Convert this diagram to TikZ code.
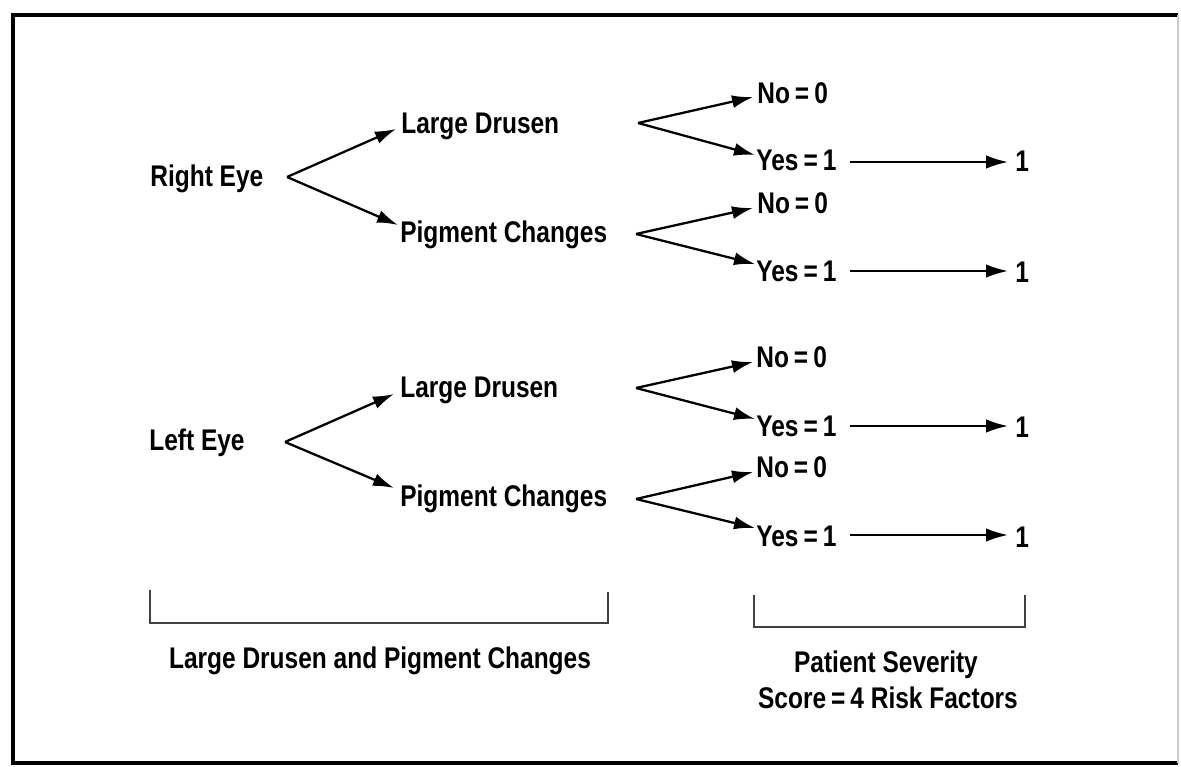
\documentclass[tikz,border=0pt]{standalone}
\usepackage{fontspec}
\setmainfont[FakeStretch=0.82]{Liberation Sans}
\usetikzlibrary{arrows.meta}
\begin{document}
\begin{tikzpicture}[x=0.02cm,y=-0.02cm,
  lbl/.style={font=\fontsize{17}{20}\selectfont\bfseries, inner sep=0, anchor=base west},
  captxt/.style={font=\fontsize{17}{20}\selectfont\bfseries, inner sep=0, anchor=base},
  arr/.style={line width=1.3pt, -{Latex[length=0.42cm, width=0.26cm]}},
  harr/.style={line width=1.2pt, -{Latex[length=0.44cm, width=0.27cm]}},
  brk/.style={line width=0.9pt, black!75}]
\useasboundingbox (0,0) rectangle (1181,767);
% frame
\draw[line width=1.9pt] (1178,15) -- (13,15) -- (13,763) -- (1178,763);
\draw[line width=0.6pt, black!20] (1178,15) -- (1178,763);

% ---------- Right eye ----------
\node[lbl] (re) at (150,187) {Right Eye};
\node[lbl] (ld1) at (401,133) {Large Drusen};
\node[lbl] (pc1) at (400,242) {Pigment Changes};
\coordinate (reb) at (287,177);
\coordinate (ld1in) at (396,129);
\coordinate (pc1in) at (398,225);
\draw[arr] (reb) -- (ld1in);
\draw[arr] (reb) -- (pc1in);

\node[lbl] (no1) at (757,104) {No\,=\,0};
\node[lbl] (yes1) at (756,171) {Yes\,=\,1};
\node[lbl] (s1) at (1015,172) {1};
\coordinate (ld1b) at (638,123);
\coordinate (no1in) at (753,97);
\coordinate (yes1in) at (755,155);
\draw[arr] (ld1b) -- (no1in);
\draw[arr] (ld1b) -- (yes1in);
\coordinate (yes1out) at (850,162);
\coordinate (s1in) at (1008,162);
\draw[harr] (yes1out) -- (s1in);

\node[lbl] (no2) at (757,214) {No\,=\,0};
\node[lbl] (yes2) at (756,281) {Yes\,=\,1};
\node[lbl] (s2) at (1015,282) {1};
\coordinate (pc1b) at (636,234);
\coordinate (no2in) at (753,208);
\coordinate (yes2in) at (755,264);
\draw[arr] (pc1b) -- (no2in);
\draw[arr] (pc1b) -- (yes2in);
\coordinate (yes2out) at (850,271);
\coordinate (s2in) at (1008,271);
\draw[harr] (yes2out) -- (s2in);

% ---------- Left eye ----------
\node[lbl] (le) at (149,450) {Left Eye};
\node[lbl] (ld2) at (400,397) {Large Drusen};
\node[lbl] (pc2) at (400,506) {Pigment Changes};
\coordinate (leb) at (285,442);
\coordinate (ld2in) at (394,394);
\coordinate (pc2in) at (394,488);
\draw[arr] (leb) -- (ld2in);
\draw[arr] (leb) -- (pc2in);

\node[lbl] (no3) at (756,367) {No\,=\,0};
\node[lbl] (yes3) at (756,436) {Yes\,=\,1};
\node[lbl] (s3) at (1015,437) {1};
\coordinate (ld2b) at (636,388);
\coordinate (no3in) at (753,362);
\coordinate (yes3in) at (755,419);
\draw[arr] (ld2b) -- (no3in);
\draw[arr] (ld2b) -- (yes3in);
\coordinate (yes3out) at (850,426);
\coordinate (s3in) at (1008,426);
\draw[harr] (yes3out) -- (s3in);

\node[lbl] (no4) at (756,477) {No\,=\,0};
\node[lbl] (yes4) at (756,546) {Yes\,=\,1};
\node[lbl] (s4) at (1015,547) {1};
\coordinate (pc2b) at (636,499);
\coordinate (no4in) at (753,472);
\coordinate (yes4in) at (755,528);
\draw[arr] (pc2b) -- (no4in);
\draw[arr] (pc2b) -- (yes4in);
\coordinate (yes4out) at (850,535);
\coordinate (s4in) at (1008,535);
\draw[harr] (yes4out) -- (s4in);

% ---------- brackets ----------
\draw[brk] (150,590) -- (150,623) -- (608,623) -- (608,592);
\node[captxt] (cap1) at (380,668) {Large Drusen and Pigment Changes};
\draw[brk] (754,595) -- (754,627) -- (1025,627) -- (1025,595);
\node[captxt] (cap2) at (886,672) {Patient Severity};
\node[captxt] (cap3) at (888,708) {Score\,=\,4 Risk Factors};
\end{tikzpicture}
\end{document}
